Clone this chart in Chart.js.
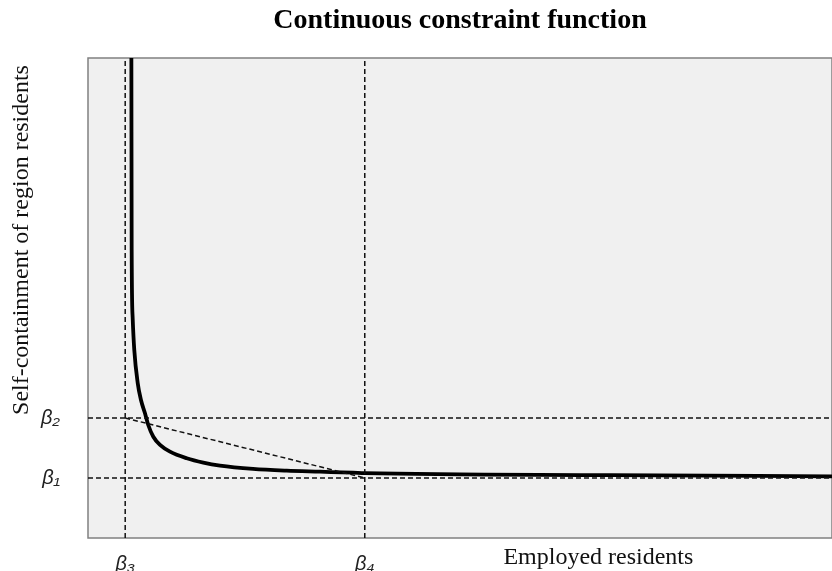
<!DOCTYPE html>
<html>
<head>
<meta charset="utf-8">
<script src="https://cdn.jsdelivr.net/npm/chart.js@4"></script>
<style>
  html, body { margin: 0; padding: 0; background: #fff; }
  #wrap { width: 832px; height: 571px; }
</style>
</head>
<body>
<div id="wrap"><canvas id="canvas"></canvas></div>
<script>
// curve, both axes on a 0-100 scale
const curveX = [5.83, 5.87, 6.0, 6.22, 6.68, 7.12, 7.66, 8.10, 8.78, 9.68, 11.02, 13.27, 15.5, 17.74, 22.18, 26.71, 31.18, 35.62, 37.2, 70.2, 100];
const curveY = [100, 60, 46.0, 39.2, 32.3, 28.75, 25.98, 23.54, 21.1, 19.38, 17.98, 16.6, 15.69, 15.06, 14.38, 14.02, 13.81, 13.6, 13.5, 13.1, 12.85];

// thresholds
const betaX = [5.0, 37.2];      // beta3, beta4
const betaY = [12.5, 25];       // beta1, beta2
const xTickLabels = ['β₃', 'β₄'];
const yTickLabels = ['β₁', 'β₂'];

const xTitle = 'Employed residents';
const yTitle = 'Self-containment of region residents';
const chartTitle = 'Continuous constraint function';

const xMin = 0, xMax = 100, yMin = 0, yMax = 100;

const curve = curveX.map(function(x, i){ return {x: x, y: curveY[i]}; });

const dashed = {
    showLine: true,
    borderColor: '#111',
    borderWidth: 1.5,
    borderDash: [5, 3],
    pointRadius: 0,
    fill: false
};

const datasets = [
    Object.assign({ data: [{x: xMin, y: betaY[1]}, {x: xMax, y: betaY[1]}] }, dashed),
    Object.assign({ data: [{x: xMin, y: betaY[0]}, {x: xMax, y: betaY[0]}] }, dashed),
    Object.assign({ data: [{x: betaX[0], y: yMin}, {x: betaX[0], y: yMax}] }, dashed),
    Object.assign({ data: [{x: betaX[1], y: yMin}, {x: betaX[1], y: yMax}] }, dashed),
    Object.assign({ data: [{x: betaX[0], y: betaY[1]}, {x: betaX[1], y: betaY[0]}] }, dashed),
    {
        data: curve,
        showLine: true,
        borderColor: '#000',
        borderWidth: 3.8,
        pointRadius: 0,
        cubicInterpolationMode: 'monotone',
        fill: false
    }
];

const panel = {
    id: 'panel',
    beforeDatasetsDraw: function(chart){
        const c = chart.ctx, a = chart.chartArea;
        c.save();
        c.fillStyle = '#f0f0f0';
        c.fillRect(a.left, a.top, a.right - a.left, a.bottom - a.top);
        c.strokeStyle = '#808080';
        c.lineWidth = 1.5;
        c.strokeRect(a.left, a.top, a.right - a.left, a.bottom - a.top);
        c.restore();
    },
    afterDraw: function(chart){
        const c = chart.ctx, a = chart.chartArea;
        c.save();
        c.fillStyle = '#111';
        c.font = '24px "Liberation Serif"';
        c.textAlign = 'center';
        c.textBaseline = 'middle';
        c.fillText(xTitle, a.left + (a.right - a.left) * 0.686, 558);
        c.translate(22, 240);
        c.rotate(-Math.PI / 2);
        c.fillText(yTitle, 0, 0);
        c.restore();
    }
};

function noPad(scale){
    scale.paddingTop = 0;
    scale.paddingBottom = 0;
    scale.paddingLeft = 0;
    scale.paddingRight = 0;
}

const ctx = document.getElementById('canvas').getContext('2d');
const myChart = new Chart(ctx, {
    type: 'scatter',
    data: { datasets: datasets },
    plugins: [panel],
    options: {
        responsive: true,
        maintainAspectRatio: false,
        animation: false,
        events: [],
        layout: { padding: 0 },
        scales: {
            x: {
                type: 'linear',
                min: xMin,
                max: xMax,
                grid: { display: false, drawTicks: false },
                border: { display: false },
                afterBuildTicks: function(scale){
                    scale.ticks = betaX.map(function(v){ return {value: v}; });
                },
                afterFit: function(scale){ scale.height = 33; noPad(scale); },
                ticks: {
                    padding: 14,
                    maxRotation: 0,
                    color: '#222',
                    font: { family: 'Liberation Sans', size: 20, style: 'italic' },
                    callback: function(v, i){ return xTickLabels[i]; }
                }
            },
            y: {
                type: 'linear',
                min: yMin,
                max: yMax,
                grid: { display: false, drawTicks: false },
                border: { display: false },
                afterBuildTicks: function(scale){
                    scale.ticks = betaY.map(function(v){ return {value: v}; });
                },
                afterFit: function(scale){ scale.width = 88; noPad(scale); },
                ticks: {
                    padding: 28,
                    color: '#222',
                    font: { family: 'Liberation Sans', size: 20, style: 'italic' },
                    callback: function(v, i){ return yTickLabels[i]; }
                }
            }
        },
        plugins: {
            legend: { display: false },
            tooltip: { enabled: false },
            title: {
                display: true,
                fullSize: false,
                text: chartTitle,
                color: '#000',
                font: { family: 'Liberation Serif', size: 28, weight: 'bold', lineHeight: 1.2 },
                padding: { top: 4, bottom: 20.4 }
            }
        }
    }
});
</script>
</body>
</html>
